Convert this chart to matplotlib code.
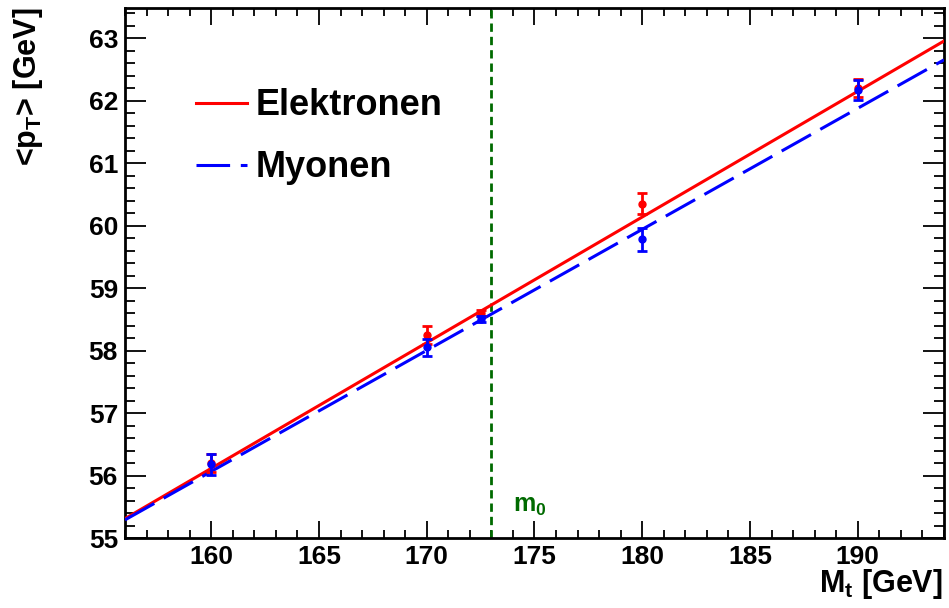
import numpy as np
import matplotlib
matplotlib.use("Agg")
import matplotlib.pyplot as plt
from matplotlib.ticker import MultipleLocator

plt.rcParams['font.family'] = ['Liberation Sans', 'DejaVu Sans']
plt.rcParams['font.weight'] = 'bold'
plt.rcParams['mathtext.fontset'] = 'custom'
plt.rcParams['mathtext.rm'] = 'Liberation Sans:bold'
plt.rcParams['mathtext.it'] = 'Liberation Sans:bold'
plt.rcParams['mathtext.bf'] = 'Liberation Sans:bold'

# top mass points [GeV]
masses = [160, 170, 172.5, 180, 190]

# mean lepton pT [GeV] and errors
pt_ele = [56.20, 58.25, 58.60, 60.35, 62.20]
err_ele = [0.15, 0.15, 0.05, 0.17, 0.15]
pt_muo = [56.18, 58.05, 58.50, 59.78, 62.17]
err_muo = [0.17, 0.14, 0.05, 0.18, 0.16]

# linear fits: value at 156 GeV and slope
fit_ele = (55.31, 0.2011)
fit_muo = (55.29, 0.1937)

m0 = 173.0

fig = plt.figure(figsize=(9.49, 6.08), dpi=100)
ax = fig.add_axes([0.1317, 0.1151, 0.8630, 0.8717])

xfit = np.array([156.0, 194.0])
ax.plot(xfit, fit_ele[0] + fit_ele[1] * (xfit - 156), color='red', lw=2.2,
        label='Elektronen', zorder=3)
ax.plot(xfit, fit_muo[0] + fit_muo[1] * (xfit - 156), color='blue', lw=2.2,
        dashes=(11, 3.5), label='Myonen', zorder=3)

ax.errorbar(masses, pt_ele, yerr=err_ele, fmt='o', color='red', ms=5,
            elinewidth=2, capsize=3.5, capthick=2, zorder=4)
ax.errorbar(masses, pt_muo, yerr=err_muo, fmt='o', color='blue', ms=5,
            elinewidth=2, capsize=3.5, capthick=2, zorder=5)

ax.axvline(m0, color='#006a00', lw=2.0, dashes=(3, 1.8), zorder=2)
ax.text(174.0, 55.42, r'm$_0$', color='#006a00', fontsize=18, fontweight='bold')

ax.set_xlim(156, 194)
ax.set_ylim(55, 63.48)
ax.xaxis.set_major_locator(MultipleLocator(5))
ax.xaxis.set_minor_locator(MultipleLocator(1))
ax.yaxis.set_major_locator(MultipleLocator(1))
ax.yaxis.set_minor_locator(MultipleLocator(0.2))

ax.tick_params(which='both', direction='in', top=True, right=True,
               labelsize=19, width=1.3)
ax.tick_params(axis='x', which='major', length=12, pad=5)
ax.tick_params(axis='x', which='minor', length=6)
ax.tick_params(axis='y', which='major', length=15, pad=5)
ax.tick_params(axis='y', which='minor', length=7.5)
for s in ax.spines.values():
    s.set_linewidth(2)

leg = ax.legend(loc='upper left', bbox_to_anchor=(0.047, 0.91), frameon=False,
                fontsize=26, handlelength=1.4, labelspacing=0.75,
                handletextpad=0.25)

fig.text(0.9937, 0.040, r'M$_t$ [GeV]', ha='right', va='center', fontsize=22)
fig.text(0.030, 0.987, r'<p$_T$> [GeV]', ha='center', va='top', rotation=90,
         fontsize=22)

fig.savefig('out.png', dpi=100)
